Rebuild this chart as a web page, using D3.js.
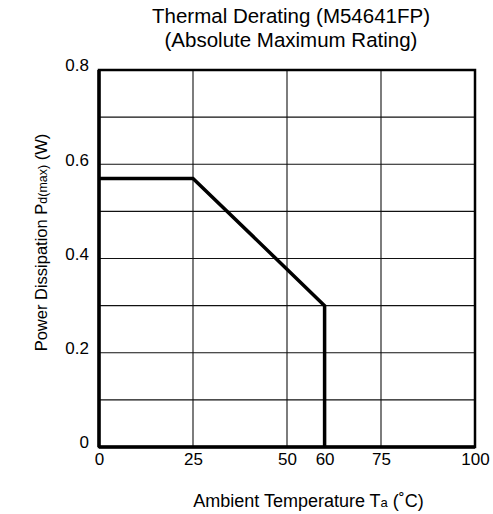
<!DOCTYPE html>
<html>
<head>
<meta charset="utf-8">
<script src="https://cdn.jsdelivr.net/npm/d3@7"></script>
<style>
  body { margin: 0; background: #fff; }
  text { font-family: "Liberation Sans", Arial, sans-serif; fill: #000; }
</style>
</head>
<body>
<svg id="chart" width="493" height="514"></svg>
<script>
// derating curve (Ta in degC, Pd in W)
const tempValues = [0, 25, 60, 60];
const powerValues = [0.57, 0.57, 0.30, 0];

const xTicks = [0, 25, 50, 60, 75, 100];
const xGrid = [25, 50, 75];
const yTicks = [0, 0.2, 0.4, 0.6, 0.8];
const yGrid = [0.1, 0.2, 0.3, 0.4, 0.5, 0.6, 0.7];

const titleLines = ["Thermal Derating (M54641FP)", "(Absolute Maximum Rating)"];

const margin = {top: 70, right: 18, bottom: 67, left: 99};
const boxWidth = 493;
const boxHeight = 514;
const width = boxWidth - margin.left - margin.right;
const height = boxHeight - margin.top - margin.bottom;

const svg = d3.select("#chart");
const g = svg.append("g")
    .attr("transform", `translate(${margin.left}, ${margin.top})`);

const xScale = d3.scaleLinear().domain([0, 100]).range([0, width]);
const yScale = d3.scaleLinear().domain([0, 0.8]).range([height, 0]);

// grid lines
g.selectAll("line.vgrid").data(xGrid).join("line")
    .classed("vgrid", true)
    .attr("x1", d => xScale(d)).attr("x2", d => xScale(d))
    .attr("y1", 0).attr("y2", height)
    .attr("stroke", "#111").attr("stroke-width", 1.1);

g.selectAll("line.hgrid").data(yGrid).join("line")
    .classed("hgrid", true)
    .attr("x1", 0).attr("x2", width)
    .attr("y1", d => yScale(d)).attr("y2", d => yScale(d))
    .attr("stroke", "#111").attr("stroke-width", 1.1);

// frame
g.append("rect")
    .attr("x", 0).attr("y", 0)
    .attr("width", width).attr("height", height)
    .attr("fill", "none").attr("stroke", "#000").attr("stroke-width", 2.5);
g.append("line")
    .attr("x1", 0).attr("x2", 0).attr("y1", 0).attr("y2", height)
    .attr("stroke", "#000").attr("stroke-width", 3.5);
g.append("line")
    .attr("x1", 0).attr("x2", width).attr("y1", height).attr("y2", height)
    .attr("stroke", "#000").attr("stroke-width", 3.5);

// axes (labels only, ticks drawn by grid)
const xAxis = g.append("g")
    .attr("transform", `translate(0, ${height})`)
    .call(d3.axisBottom(xScale).tickValues(xTicks).tickSize(0).tickPadding(6).tickFormat(d3.format("d")));
xAxis.select(".domain").remove();
xAxis.selectAll("text").attr("font-size", 17).attr("fill", "#000")
    .style("font-family", "'Liberation Sans', Arial, sans-serif");

const yAxis = g.append("g")
    .call(d3.axisLeft(yScale).tickValues(yTicks).tickSize(0).tickPadding(10)
        .tickFormat(d => d === 0 ? "0" : d3.format(".1f")(d)));
yAxis.select(".domain").remove();
yAxis.selectAll("text").attr("font-size", 17).attr("fill", "#000").attr("dy", "0.05em")
    .style("font-family", "'Liberation Sans', Arial, sans-serif");

// derating curve
const curve = tempValues.map((t, i) => [t, powerValues[i]]);
g.append("path")
    .datum(curve)
    .attr("fill", "none")
    .attr("stroke", "#000")
    .attr("stroke-width", 3.5)
    .attr("stroke-linejoin", "miter")
    .attr("d", d3.line().x(d => xScale(d[0])).y(d => yScale(d[1])));

// title
svg.selectAll("text.title").data(titleLines).join("text")
    .classed("title", true)
    .attr("x", 291)
    .attr("y", (d, i) => 23 + i * 24)
    .attr("text-anchor", "middle")
    .attr("font-size", 20.5)
    .text(d => d);

// x label with subscript
const xl = svg.append("text")
    .attr("x", 308.5)
    .attr("y", 507)
    .attr("text-anchor", "middle")
    .attr("font-size", 18);
xl.append("tspan").text("Ambient Temperature T");
xl.append("tspan").attr("font-size", 13).text("a");
xl.append("tspan").text(" (˚C)");

// y label with subscript
const yl = svg.append("text")
    .attr("transform", `translate(47, 242.5) rotate(-90)`)
    .attr("text-anchor", "middle")
    .attr("font-size", 16.5);
yl.append("tspan").text("Power Dissipation P");
yl.append("tspan").attr("font-size", 12.5).text("d(max)");
yl.append("tspan").text(" (W)");
</script>
</body>
</html>
